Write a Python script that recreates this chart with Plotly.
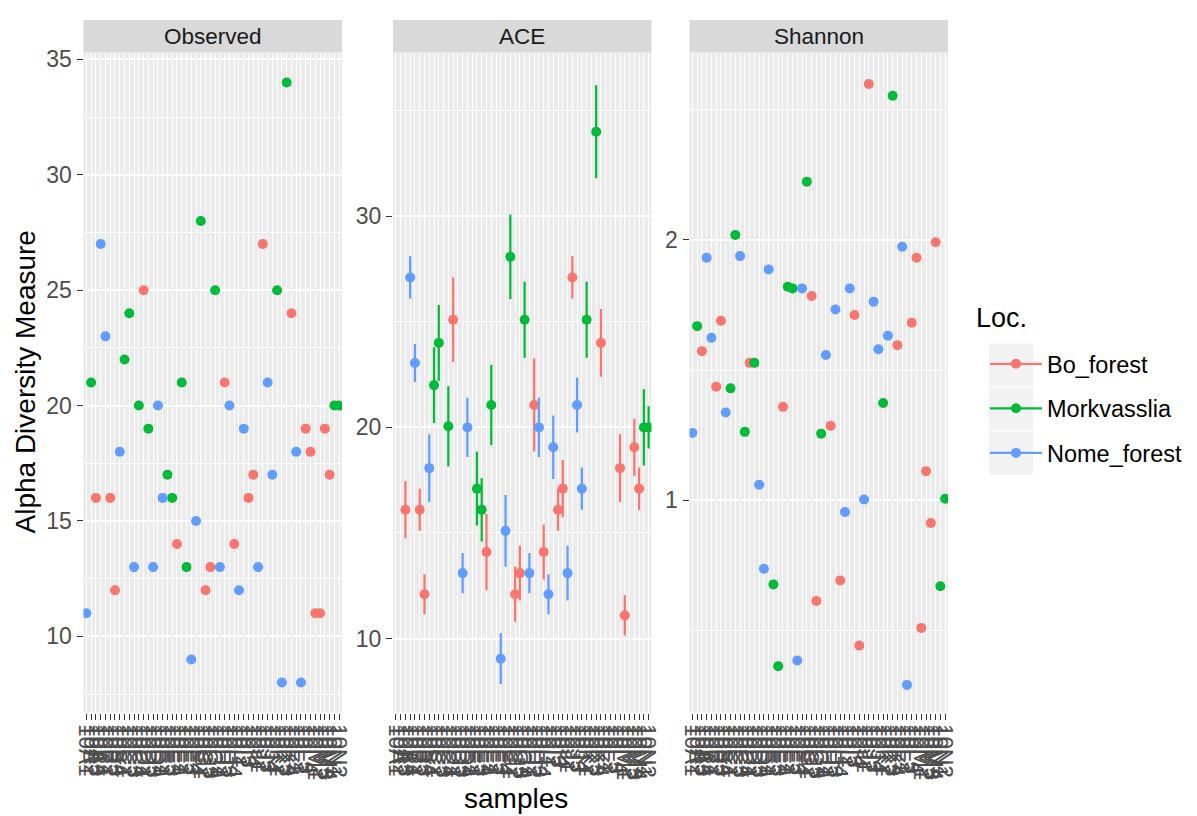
import plotly.graph_objects as go

# ---------------- data ----------------
samples = ["10A1", "10A2", "10A3", "10A4", "10B1", "10B2", "10B3", "10B4",
           "10C1", "10C2", "10C3", "10C4", "10D1", "10D2", "10D3", "10D4",
           "10E1", "10E2", "10E3", "10E4", "10F1", "10F2", "10F3", "10F4",
           "10G1", "10G2", "10G3", "10G4", "10H1", "10H2", "10H3", "10H4",
           "10I1", "10I2", "10I3", "10I4", "10J1", "10J2", "10J3", "10J4",
           "10K1", "10K2", "10K3", "10K4", "10L1", "10L2", "10L3", "10L4",
           "10M1", "10M2", "10M3", "10M4", "10N1", "10N2"]

loc = ["Nome_forest", "Morkvasslia", "Bo_forest", "Nome_forest", "Nome_forest", "Bo_forest",
       "Bo_forest", "Nome_forest", "Morkvasslia", "Morkvasslia", "Nome_forest", "Morkvasslia",
       "Bo_forest", "Morkvasslia", "Nome_forest", "Nome_forest", "Nome_forest", "Morkvasslia",
       "Morkvasslia", "Bo_forest", "Morkvasslia", "Morkvasslia", "Nome_forest", "Nome_forest",
       "Morkvasslia", "Bo_forest", "Bo_forest", "Morkvasslia", "Nome_forest", "Bo_forest",
       "Nome_forest", "Bo_forest", "Nome_forest", "Nome_forest", "Bo_forest", "Bo_forest",
       "Nome_forest", "Bo_forest", "Nome_forest", "Nome_forest", "Morkvasslia", "Nome_forest",
       "Morkvasslia", "Bo_forest", "Nome_forest", "Nome_forest", "Bo_forest", "Bo_forest",
       "Bo_forest", "Bo_forest", "Bo_forest", "Bo_forest", "Morkvasslia", "Morkvasslia"]

observed = [11, 21, 16, 27, 23, 16, 12, 18, 22, 24, 13, 20, 25, 19, 13, 20, 16, 17,
            16, 14, 21, 13, 9, 15, 28, 12, 13, 25, 13, 21, 20, 14, 12, 19, 16, 17,
            13, 27, 21, 17, 25, 8, 34, 24, 18, 8, 19, 18, 11, 11, 19, 17, 20, 20]

ace = [None, None, 16.1, 27.1, 23.05, 16.1, 12.1, 18.07, 22.0, 24.0, None, 20.05,
       25.1, None, 13.1, 20.0, None, 17.1, 16.1, 14.1, 21.06, None, 9.05, 15.1,
       28.08, 12.1, 13.1, 25.1, 13.1, 21.06, 20.0, 14.1, 12.1, 19.06, 16.1, 17.1,
       13.1, 27.1, 21.06, 17.1, 25.1, None, 34.0, 24.0, None, None, None, 18.07,
       11.1, None, 19.06, 17.1, 20.0, 20.0]

ace_se = [None, None, 1.35, 1.0, 0.9, 1.0, 0.95, 1.6, 1.8, 1.8, None, 1.9,
          2.0, None, 0.95, 1.4, None, 1.75, 1.5, 1.8, 1.9, None, 1.2, 1.7,
          2.0, 1.3, 1.3, 1.8, 0.95, 2.2, 1.4, 1.3, 0.95, 1.5, 1.0, 1.35,
          1.3, 1.0, 1.3, 1.0, 1.8, None, 2.2, 1.6, None, None, None, 1.6,
          0.95, None, 1.35, 1.0, 1.8, 1.0]

shannon = [1.259, 1.669, 1.573, 1.932, 1.624, 1.436, 1.690, 1.337, 1.43, 2.019,
           1.938, 1.263, 1.528, 1.528, 1.060, 0.737, 1.887, 0.677, 0.363, 1.359,
           1.820, 1.814, 0.385, 1.814, 2.224, 1.785, 0.613, 1.256, 1.558, 1.286,
           1.733, 0.692, 0.955, 1.814, 1.712, 0.442, 1.003, 2.599, 1.763, 1.580,
           1.374, 1.632, 2.554, 1.596, 1.974, 0.291, 1.682, 1.932, 0.510, 1.112,
           0.913, 1.991, 0.670, 1.006]

groups = ["Bo_forest", "Morkvasslia", "Nome_forest"]
measures = ["Observed", "ACE", "Shannon"]

# ---------------- style ----------------
OFF = 8  # default page margin of the html body
W, H = 1197 - OFF, 816 - OFF
colors = {"Bo_forest": "#F8766D", "Morkvasslia": "#00BA38", "Nome_forest": "#619CFF"}
FONT = "Liberation Sans, Arial, sans-serif"
SMALL, BIG = 22.5, 28
panel_scr = [(83.5, 342.0), (393.0, 651.5), (689.5, 948.0)]
top_scr, bot_scr, strip_scr = 52.5, 712.5, 20.0
yranges = [[6.7, 35.3], [6.5, 37.75], [0.185, 2.72]]
ydticks = [5, 10, 1]


def px(xs):
    return (xs - OFF) / W


def py(ys):
    return 1 - (ys - OFF) / H


series = {"Observed": (observed, None), "ACE": (ace, ace_se), "Shannon": (shannon, None)}

fig = go.Figure()
for k, m in enumerate(measures):
    vals, se = series[m]
    xa = "x" if k == 0 else f"x{k+1}"
    ya = "y" if k == 0 else f"y{k+1}"
    for g in groups:
        idx = [i for i in range(len(samples)) if loc[i] == g]
        tr = dict(x=[samples[i] for i in idx], y=[vals[i] for i in idx],
                  mode="markers", name=g, showlegend=False,
                  marker=dict(color=colors[g], size=10),
                  xaxis=xa, yaxis=ya, hoverinfo="x+y")
        if se is not None:
            tr["error_y"] = dict(type="data", array=[se[i] for i in idx], visible=True,
                                 thickness=2.2, width=0, color=colors[g])
        fig.add_trace(go.Scatter(**tr))

# legend entries
for g in groups:
    fig.add_trace(go.Scatter(x=[None], y=[None], mode="lines+markers", name=g,
                             legendgroup=g, showlegend=True,
                             marker=dict(color=colors[g], size=10),
                             line=dict(color=colors[g], width=2.2),
                             xaxis="x", yaxis="y"))

layout = dict(width=W, height=H, margin=dict(l=0, r=0, t=0, b=0, pad=0), autosize=False,
              paper_bgcolor="white", plot_bgcolor="#EBEBEB",
              font=dict(family=FONT, color="#000000"),
              shapes=[], annotations=[])

ydom = [py(bot_scr), py(top_scr)]
for k, m in enumerate(measures):
    l, r = panel_scr[k]
    sfx = "" if k == 0 else str(k + 1)
    layout["xaxis" + sfx] = dict(
        domain=[px(l), px(r)], anchor="y" + sfx, type="category",
        categoryorder="array", categoryarray=samples, range=[-0.6, len(samples) - 0.4],
        tickmode="array", tickvals=samples, ticktext=samples, tickangle=90,
        tickfont=dict(size=SMALL, color="#4D4D4D", family=FONT),
        ticks="outside", ticklen=6, tickwidth=1.3, tickcolor="#333333",
        showgrid=True, gridcolor="white", gridwidth=1.4, zeroline=False, showline=False,
        automargin=False, fixedrange=True)
    dt = ydticks[k]
    layout["yaxis" + sfx] = dict(
        domain=ydom, anchor="x" + sfx, range=yranges[k], tick0=0, dtick=dt,
        tickfont=dict(size=SMALL + 0.5, color="#4D4D4D", family=FONT),
        ticks="outside", ticklen=6, tickwidth=1.3, tickcolor="#333333",
        showgrid=True, gridcolor="white", gridwidth=2, zeroline=False, showline=False,
        minor=dict(tick0=0, dtick=dt / 2, showgrid=True, gridcolor="white", gridwidth=1, ticks=""),
        automargin=False, fixedrange=True)
    # strip
    layout["shapes"].append(dict(type="rect", xref="paper", yref="paper",
                                 x0=px(l), x1=px(r), y0=py(top_scr), y1=py(strip_scr),
                                 fillcolor="#D9D9D9", line=dict(width=0), layer="below"))
    layout["annotations"].append(dict(text=m, xref="paper", yref="paper",
                                      x=px((l + r) / 2), y=py((top_scr + strip_scr) / 2),
                                      showarrow=False, xanchor="center", yanchor="middle",
                                      font=dict(size=SMALL, color="#1A1A1A", family=FONT)))

layout["annotations"].append(dict(text="Alpha Diversity Measure", xref="paper", yref="paper",
                                  x=px(25), y=py((top_scr + bot_scr) / 2), textangle=-90,
                                  showarrow=False, xanchor="center", yanchor="middle",
                                  font=dict(size=BIG, color="#000000", family=FONT)))
layout["annotations"].append(dict(text="samples", xref="paper", yref="paper",
                                  x=px((panel_scr[0][0] + panel_scr[2][1]) / 2), y=py(798),
                                  showarrow=False, xanchor="center", yanchor="middle",
                                  font=dict(size=BIG, color="#000000", family=FONT)))
# legend title
layout["annotations"].append(dict(text="Loc.", xref="paper", yref="paper",
                                  x=px(974), y=py(318), showarrow=False,
                                  xanchor="left", yanchor="middle",
                                  font=dict(size=BIG - 1, color="#000000", family=FONT)))
# legend key backgrounds
for yc in [365, 409, 453]:
    layout["shapes"].append(dict(type="rect", xref="paper", yref="paper",
                                 x0=px(989), x1=px(1033), y0=py(yc + 21.5), y1=py(yc - 21.5),
                                 fillcolor="#F2F2F2", line=dict(width=0), layer="below"))

layout["legend"] = dict(x=px(985), y=py(342), xanchor="left", yanchor="top",
                        font=dict(size=23.5, family=FONT, color="#000000"),
                        bgcolor="rgba(0,0,0,0)", traceorder="grouped", tracegroupgap=11,
                        itemwidth=52)

fig.update_layout(**layout)
fig.write_html("out.html")
